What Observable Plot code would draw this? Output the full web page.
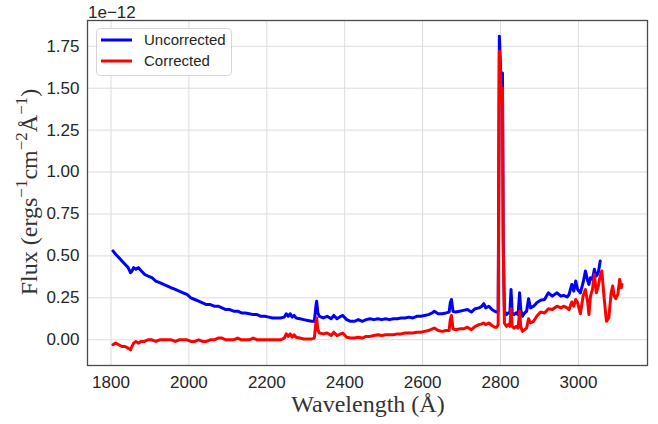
<!DOCTYPE html>
<html><head><meta charset="utf-8">
<script src="https://cdn.jsdelivr.net/npm/d3@7"></script>
<script src="https://cdn.jsdelivr.net/npm/@observablehq/plot@0.6"></script>
<style>body{margin:0;background:#fff} svg{display:block}</style>
</head><body><div id="chart"></div>
<script>
// Wavelength (Å)
const wavelength = [
  1805,1812,1820,1828,1836,1844,1850,1854,1858,1864,
  1870,1878,1886,1895,1905,1915,1925,1935,1945,1955,
  1965,1975,1985,1995,2005,2015,2025,2035,2045,2055,
  2065,2075,2085,2095,2105,2115,2125,2135,2145,2155,
  2165,2175,2185,2195,2205,2215,2225,2235,2245,2250,
  2255,2260,2265,2270,2275,2285,2295,2305,2315,2322,
  2326,2328,2331,2335,2345,2355,2365,2372,2380,2390,
  2395,2405,2415,2425,2435,2445,2455,2465,2475,2485,
  2495,2505,2515,2525,2535,2545,2555,2565,2575,2585,
  2595,2605,2615,2625,2630,2640,2650,2660,2668,2671,
  2674,2678,2685,2695,2705,2715,2725,2735,2745,2752,
  2757,2762,2770,2778,2785,2790,2794,2797,2799,2801,
  2803,2805,2807,2810,2815,2820,2824,2827,2830,2835,
  2840,2845,2849,2852,2856,2862,2867,2872,2877,2885,
  2893,2903,2913,2923,2933,2945,2955,2962,2971,2976,
  2983,2988,2993,2998,3005,3012,3018,3024,3027,3031,
  3036,3041,3046,3051,3056,3060,3066,3072,3078,3084,
  3088,3092,3096,3101,3106,3110,3112
];
// Flux, units of 1e-12 (uncorrected ends at 3056 Å)
const uncorrected = [
  .53,.51,.49,.47,.45,.43,.40,.41,.43,.42,
  .43,.41,.39,.38,.37,.35,.34,.33,.32,.31,
  .30,.29,.28,.27,.25,.24,.23,.22,.21,.21,
  .20,.20,.19,.18,.18,.17,.17,.16,.16,.155,
  .15,.15,.14,.14,.135,.13,.13,.13,.135,.155,
  .14,.155,.135,.145,.13,.125,.12,.115,.11,.11,
  .20,.23,.16,.14,.13,.14,.125,.145,.125,.14,
  .145,.12,.11,.11,.12,.11,.12,.125,.12,.125,
  .12,.125,.12,.125,.125,.13,.13,.135,.13,.14,
  .14,.145,.15,.16,.17,.155,.155,.16,.165,.22,
  .24,.17,.165,.17,.175,.18,.165,.185,.19,.20,
  .215,.19,.20,.18,.17,.165,.17,1.81,1.70,1.55,
  1.50,1.59,.60,.17,.15,.16,.16,.30,.16,.15,
  .16,.15,.28,.18,.14,.16,.17,.245,.19,.20,
  .22,.235,.24,.28,.26,.28,.26,.265,.255,.27,
  .33,.29,.35,.30,.28,.34,.41,.35,.33,.37,
  .36,.42,.38,.40,.47
];
const corrected = [
  -.03,-.02,-.03,-.04,-.04,-.05,-.06,-.04,-.02,-.01,
  -.02,-.01,-.01,0,0,-.01,0,0,0,0,
  -.01,0,0,0,-.01,-.01,0,-.01,-.01,0,
  0,.01,.01,0,0,0,.01,0,0,0,
  .01,0,0,0,0,0,0,0,.01,.035,
  .02,.035,.015,.03,.015,.01,.005,.005,.005,.01,
  .10,.13,.06,.04,.035,.04,.025,.045,.025,.035,
  .04,.015,.01,.01,.015,.01,.02,.02,.025,.03,
  .025,.03,.03,.03,.035,.035,.04,.04,.04,.045,
  .045,.05,.055,.065,.07,.055,.05,.055,.055,.12,
  .145,.065,.06,.065,.065,.075,.06,.08,.09,.095,
  .10,.09,.10,.085,.075,.075,.09,1.72,1.62,1.48,
  1.42,1.50,.55,.10,.08,.09,.08,.185,.08,.07,
  .08,.07,.17,.08,.05,.06,.07,.125,.10,.11,
  .14,.165,.16,.185,.18,.20,.19,.20,.19,.18,
  .225,.20,.24,.22,.155,.26,.30,.22,.15,.26,
  .30,.39,.28,.32,.38,.41,.25,.11,.13,.28,
  .32,.26,.245,.27,.36,.31,.33
];
const seriesNames = ["Uncorrected", "Corrected"];
const xTicks = [1800, 2000, 2200, 2400, 2600, 2800, 3000];
const yTicks = [0, 0.25, 0.5, 0.75, 1.0, 1.25, 1.5, 1.75];

const uncRows = uncorrected.map((f, i) => ({w: wavelength[i], f}));
const corRows = corrected.map((f, i) => ({w: wavelength[i], f}));

// matplotlib-like 5% margins
const wExt = d3.extent(wavelength);
const fExt = d3.extent([...uncorrected, ...corrected]);
const wPad = (wExt[1] - wExt[0]) * 0.05, fPad = (fExt[1] - fExt[0]) * 0.05;

const sans = "'Liberation Sans', Arial, sans-serif";
const serif = "'Liberation Serif', 'Times New Roman', serif";
const ink = "#262626";

const plot = Plot.plot({
  width: 658, height: 424,
  marginLeft: 87, marginRight: 11, marginTop: 20, marginBottom: 59,
  style: {fontFamily: sans, background: "white", color: ink},
  x: {domain: [wExt[0] - wPad, wExt[1] + wPad]},
  y: {domain: [fExt[0] - fPad, fExt[1] + fPad]},
  marks: [
    Plot.gridX(xTicks, {stroke: "#dcdcdc", strokeOpacity: 1, strokeWidth: 1}),
    Plot.gridY(yTicks, {stroke: "#dcdcdc", strokeOpacity: 1, strokeWidth: 1}),
    Plot.line(uncRows, {x: "w", y: "f", stroke: "blue", strokeWidth: 3, strokeLinejoin: "round"}),
    Plot.line(corRows, {x: "w", y: "f", stroke: "red", strokeWidth: 3, strokeLinejoin: "round"}),
    Plot.frame({stroke: "#4a4a4a", strokeWidth: 1.3}),
    Plot.axisX(xTicks, {tickSize: 0, tickPadding: 10, fontSize: 17, label: null, fill: ink, tickFormat: d3.format("d")}),
    Plot.axisY(yTicks, {tickSize: 0, tickPadding: 8, fontSize: 17, label: null, fill: ink, tickFormat: d3.format(".2f")})
  ]
});

const svg = d3.select(plot);

// offset text
svg.append("text").attr("x", 88).attr("y", 18).attr("text-anchor", "start")
  .attr("font-family", sans).attr("font-size", 17).attr("fill", ink)
  .text("1e\u221212");

// x label
svg.append("text").attr("x", 368).attr("y", 412).attr("text-anchor", "middle")
  .attr("font-family", serif).attr("font-size", 24).attr("fill", "#333")
  .text("Wavelength (Å)");

// y label with superscripts
const yl = svg.append("text")
  .attr("transform", "translate(37,192) rotate(-90)")
  .attr("text-anchor", "middle")
  .attr("font-family", serif).attr("font-size", 24).attr("fill", "#333");
const parts = [["Flux (ergs", 0], ["\u22121", 1], ["cm", 0], ["\u22122", 1], ["Å", 0], ["\u22121", 1], [")", 0]];
let prevSup = 0;
for (const [t, sup] of parts) {
  const ts = yl.append("tspan").text(t);
  const dy = (sup ? -10 : 0) - (prevSup ? -10 : 0);
  if (dy) ts.attr("dy", dy);
  if (sup) ts.attr("font-size", 17);
  prevSup = sup;
}

// legend
const lg = svg.append("g").attr("text-anchor", "start");
lg.append("rect").attr("x", 96.5).attr("y", 28.5).attr("width", 135).attr("height", 47)
  .attr("rx", 4).attr("fill", "white").attr("fill-opacity", 0.85).attr("stroke", "#d6d6d6");
const legendColors = ["blue", "red"];
seriesNames.forEach((name, i) => {
  const y = 40 + i * 21;
  lg.append("line").attr("x1", 101).attr("x2", 132).attr("y1", y).attr("y2", y)
    .attr("stroke", legendColors[i]).attr("stroke-width", 3);
  lg.append("text").attr("x", 144).attr("y", y).attr("dy", "0.35em")
    .attr("font-family", sans).attr("font-size", 15).attr("fill", ink).text(name);
});

document.getElementById("chart").appendChild(plot);
</script>
</body></html>
